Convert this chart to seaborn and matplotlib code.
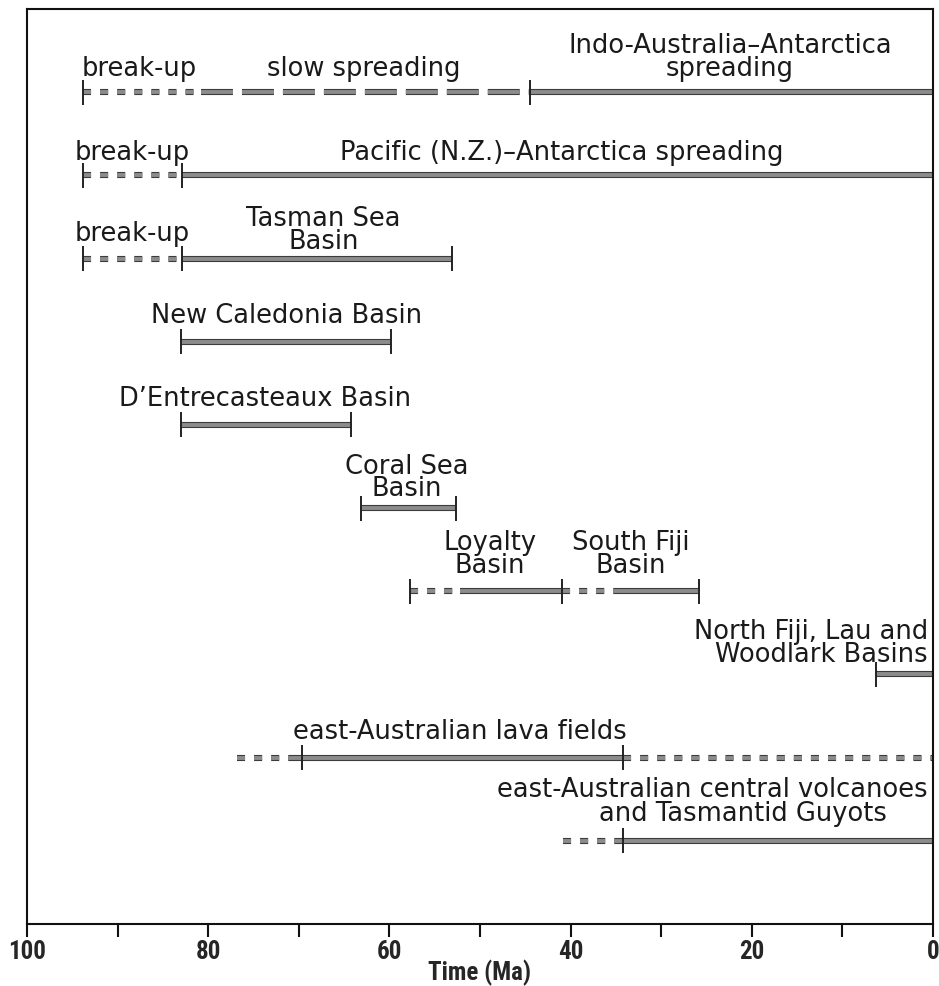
import pandas as pd
import matplotlib
matplotlib.use('Agg')
import matplotlib.pyplot as plt
import matplotlib.patheffects as pe
import seaborn as sns

sns.set_theme(style="white")
plt.rcParams['font.family'] = ['DejaVu Sans']

# ---- data: time spans (Ma) of each tectonic episode, row by row ----
seg_row = [0, 0, 0,
           1, 1,
           2, 2,
           3,
           4,
           5,
           6, 6, 6, 6,
           7,
           8, 8, 8,
           9, 9]
seg_start = [93.8, 80.8, 44.5,
             93.8, 82.9,
             93.8, 82.9,
             83.0,
             83.0,
             63.1,
             57.7, 52.2, 40.9, 35.1,
             6.3,
             76.8, 70.5, 34.2,
             40.8, 34.8]
seg_end = [80.8, 44.5, 0.0,
           82.9, 0.0,
           82.9, 53.1,
           59.8,
           64.2,
           52.6,
           52.2, 40.9, 35.1, 25.8,
           0.0,
           70.5, 34.2, 0.0,
           34.8, 0.0]
seg_kind = ['short', 'long', 'solid',
            'short', 'solid',
            'short', 'solid',
            'solid',
            'solid',
            'solid',
            'short', 'solid', 'short', 'solid',
            'solid',
            'short', 'solid', 'short',
            'short', 'solid']

# boundary marks (Ma)
mark_row = [0, 0, 1, 1, 2, 2, 2, 3, 3, 4, 4, 5, 5, 6, 6, 6, 7, 8, 8, 9]
mark_age = [93.8, 44.5, 93.8, 82.9, 93.8, 82.9, 53.1, 83.0, 59.8, 83.0, 64.2,
            63.1, 52.6, 57.7, 40.9, 25.8, 6.3, 69.6, 34.2, 34.2]

# labels
label_text = ["break-up", "slow spreading", "Indo-Australia\u2013Antarctica\nspreading",
              "break-up", "Pacific (N.Z.)\u2013Antarctica spreading",
              "break-up", "Tasman Sea\nBasin",
              "New Caledonia Basin",
              "D\u2019Entrecasteaux Basin",
              "Coral Sea\nBasin",
              "Loyalty\nBasin", "South Fiji\nBasin",
              "North Fiji, Lau and\nWoodlark Basins",
              "east-Australian lava fields",
              "east-Australian central volcanoes", "and Tasmantid Guyots"]
label_row = [0, 0, 0, 1, 1, 2, 2, 3, 4, 5, 6, 6, 7, 8, 9, 9]
label_age = [87.6, 62.8, 22.4, 88.4, 41.0, 88.4, 67.3, 71.3, 73.7, 58.1,
             48.9, 33.4, 0.55, 52.2, 0.55, 5.1]
label_ha = ['center'] * 12 + ['right', 'center', 'right', 'right']
label_gap = [0.14, 0.14, 0.14, 0.13, 0.13, 0.15, 0.06, 0.17, 0.17, 0.08,
             0.16, 0.16, 0.09, 0.16, 0.47, 0.18]

xticks_major = [100, 80, 60, 40, 20, 0]
xticks_all = [100, 90, 80, 70, 60, 50, 40, 30, 20, 10, 0]

# ---- long-form table for seaborn ----
recs = []
for i, (r, a, b, k) in enumerate(zip(seg_row, seg_start, seg_end, seg_kind)):
    recs.append({'seg': i, 'age': a, 'row': r, 'kind': k})
    recs.append({'seg': i, 'age': b, 'row': r, 'kind': k})
df = pd.DataFrame(recs)

plt.rcParams['lines.scale_dashes'] = False
fig = plt.figure(figsize=(9.39, 9.87), dpi=100)
ax = fig.add_axes([27 / 939, 1 - 925 / 987, 906 / 939, 915 / 987])

bar_col = '#8c8c8c'
sns.lineplot(data=df, x='age', y='row', units='seg', style='kind', estimator=None,
             sort=False, color=bar_col, lw=2.8, legend=False, ax=ax,
             dashes={'solid': '', 'short': (5.8, 6.5), 'long': (23, 6.5)})
for ln in ax.get_lines():
    ln.set_dash_capstyle('butt')
    ln.set_solid_capstyle('butt')
    ln.set_path_effects([pe.Stroke(linewidth=4.4, foreground='#3c3c3c'), pe.Normal()])

ax.vlines(mark_age, [r - 0.15 for r in mark_row], [r + 0.15 for r in mark_row],
          color='#222222', lw=1.4, zorder=3)

for t, r, a, ha, g in zip(label_text, label_row, label_age, label_ha, label_gap):
    ax.text(a, r - g, t, ha=ha, va='bottom', fontsize=18.5, linespacing=0.84,
            color='#1a1a1a', multialignment=ha)

tick_font = ['Liberation Sans Narrow', 'Roboto Condensed', 'Roboto', 'DejaVu Sans']
ax.set_xlim(100, 0)
ax.set_ylim(10.0, -1.0)
ax.set_yticks([])
ax.set_xticks(xticks_all)
ax.set_xticklabels([str(v) if v in xticks_major else '' for v in xticks_all],
                   family=tick_font, fontweight='bold', fontsize=18)
ax.tick_params(axis='x', direction='out', length=9, width=1.5, color='#111111',
               pad=2, bottom=True)
ax.set_xlabel('Time (Ma)', family=tick_font, fontweight='bold', fontsize=18, labelpad=-3)
ax.set_ylabel('')
for s in ax.spines.values():
    s.set_color('#111111')
    s.set_linewidth(1.5)

fig.savefig('out.png', dpi=100)
